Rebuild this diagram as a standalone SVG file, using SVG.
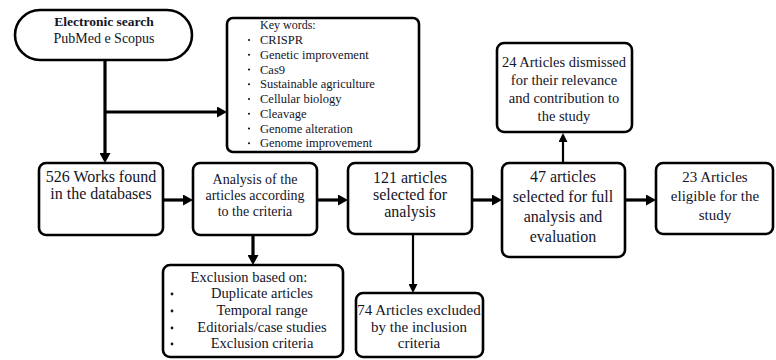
<svg xmlns="http://www.w3.org/2000/svg" width="776" height="360" viewBox="0 0 776 360">
<defs>
<style>
.box{fill:#fff;stroke:#000;stroke-width:2.6}
.t{font-family:"Liberation Serif","Tinos","Times New Roman","DejaVu Serif",serif;fill:#141428;text-anchor:middle}
.l{font-family:"Liberation Serif","Tinos","Times New Roman","DejaVu Serif",serif;fill:#141428}
.c{stroke:#000;fill:none}
.thick{stroke-width:3.2}
.thin{stroke-width:2.2}
.dot{fill:#141428}
</style>
<marker id="ah" markerUnits="userSpaceOnUse" markerWidth="10" markerHeight="11" refX="3" refY="5.5" orient="auto" viewBox="0 0 10 11">
<path d="M0,0 L10,5.5 L0,11 z" fill="#000"/>
</marker>
<marker id="ahs" markerUnits="userSpaceOnUse" markerWidth="9" markerHeight="9" refX="3" refY="4.5" orient="auto" viewBox="0 0 9 9">
<path d="M0,0 L9,4.5 L0,9 z" fill="#000"/>
</marker>
</defs>
<rect width="776" height="360" fill="#fff"/>
<g id="connectors">
<path class="c thick" d="M105,60 V156" marker-end="url(#ah)"/>
<path class="c thick" d="M105,112 H220" marker-end="url(#ah)"/>
<path class="c thick" d="M163,200 H186" marker-end="url(#ah)"/>
<path class="c thick" d="M317,200 H341" marker-end="url(#ah)"/>
<path class="c thick" d="M472,200 H495" marker-end="url(#ah)"/>
<path class="c thick" d="M625,200 H649" marker-end="url(#ah)"/>
<path class="c thick" d="M253,235 V258" marker-end="url(#ah)"/>
<path class="c thin" d="M413,234 V287" marker-end="url(#ahs)"/>
<path class="c thin" d="M563,163 V139" marker-end="url(#ahs)"/>
</g>
<g id="search">
<rect class="box" x="15" y="10" width="177" height="50" rx="25"/>
<text class="t" x="104" y="26" font-size="13.5" font-weight="bold">Electronic search</text>
<text class="t" x="104" y="43" font-size="14">PubMed e Scopus</text>
</g>
<g id="keywords">
<rect class="box" x="227" y="18" width="192" height="134" rx="6"/>
<text class="l" x="260" y="29" font-size="12">Key words:</text>
<g class="dot">
<circle cx="249" cy="40" r="1.1"/><circle cx="249" cy="54.75" r="1.1"/><circle cx="249" cy="69.5" r="1.1"/><circle cx="249" cy="84.25" r="1.1"/>
<circle cx="249" cy="99" r="1.1"/><circle cx="249" cy="113.75" r="1.1"/><circle cx="249" cy="128.5" r="1.1"/><circle cx="249" cy="143.25" r="1.1"/>
</g>
<text class="l" x="260" y="44" font-size="12.5">CRISPR</text>
<text class="l" x="260" y="58.75" font-size="12.5">Genetic improvement</text>
<text class="l" x="260" y="73.5" font-size="12.5">Cas9</text>
<text class="l" x="260" y="88.25" font-size="12.5">Sustainable agriculture</text>
<text class="l" x="260" y="103" font-size="12.5">Cellular biology</text>
<text class="l" x="260" y="117.75" font-size="12.5">Cleavage</text>
<text class="l" x="260" y="132.5" font-size="12.5">Genome alteration</text>
<text class="l" x="260" y="147.25" font-size="12.5">Genome improvement</text>
</g>
<g id="works">
<rect class="box" x="39" y="163" width="124" height="72" rx="7"/>
<text class="t" x="101" y="181.5" font-size="16">526 Works found</text>
<text class="t" x="101" y="199" font-size="16">in the databases</text>
</g>
<g id="analysis">
<rect class="box" x="193" y="163" width="124" height="72" rx="7"/>
<text class="t" x="255" y="184" font-size="14">Analysis of the</text>
<text class="t" x="255" y="200" font-size="14">articles according</text>
<text class="t" x="255" y="216" font-size="14">to the criteria</text>
</g>
<g id="selected121">
<rect class="box" x="348" y="163" width="124" height="71" rx="7"/>
<text class="t" x="410" y="183" font-size="16">121 articles</text>
<text class="t" x="410" y="200" font-size="16">selected for</text>
<text class="t" x="410" y="217" font-size="16">analysis</text>
</g>
<g id="selected47">
<rect class="box" x="502" y="163" width="123" height="94" rx="7"/>
<text class="t" x="563" y="182" font-size="16">47 articles</text>
<text class="t" x="563" y="202" font-size="16">selected for full</text>
<text class="t" x="563" y="222" font-size="16">analysis and</text>
<text class="t" x="563" y="242" font-size="16">evaluation</text>
</g>
<g id="eligible">
<rect class="box" x="656" y="163" width="117" height="71" rx="7"/>
<text class="t" x="715" y="182" font-size="15">23 Articles</text>
<text class="t" x="715" y="201" font-size="15">eligible for the</text>
<text class="t" x="715" y="220" font-size="15">study</text>
</g>
<g id="dismissed">
<rect class="box" x="497" y="43" width="135" height="89" rx="7"/>
<text class="t" x="564" y="67" font-size="14.5">24 Articles dismissed</text>
<text class="t" x="564" y="85" font-size="14.5">for their relevance</text>
<text class="t" x="564" y="103" font-size="14.5">and contribution to</text>
<text class="t" x="564" y="121" font-size="14.5">the study</text>
</g>
<g id="exclusion">
<rect class="box" x="163" y="265" width="180" height="92" rx="7"/>
<text class="t" x="249" y="282" font-size="14.5">Exclusion based on:</text>
<g class="dot">
<circle cx="172" cy="294" r="1.4"/><circle cx="172" cy="311" r="1.4"/><circle cx="172" cy="328" r="1.4"/><circle cx="172" cy="344" r="1.4"/>
</g>
<text class="t" x="262" y="298" font-size="14.5">Duplicate articles</text>
<text class="t" x="262" y="315" font-size="14.5">Temporal range</text>
<text class="t" x="262" y="332" font-size="14.5">Editorials/case studies</text>
<text class="t" x="262" y="348" font-size="14.5">Exclusion criteria</text>
</g>
<g id="excluded74">
<rect class="box" x="356" y="293" width="127" height="64" rx="7"/>
<text class="t" x="419" y="315" font-size="15">74 Articles excluded</text>
<text class="t" x="419" y="332" font-size="15">by the inclusion</text>
<text class="t" x="419" y="348" font-size="15">criteria</text>
</g>
</svg>
